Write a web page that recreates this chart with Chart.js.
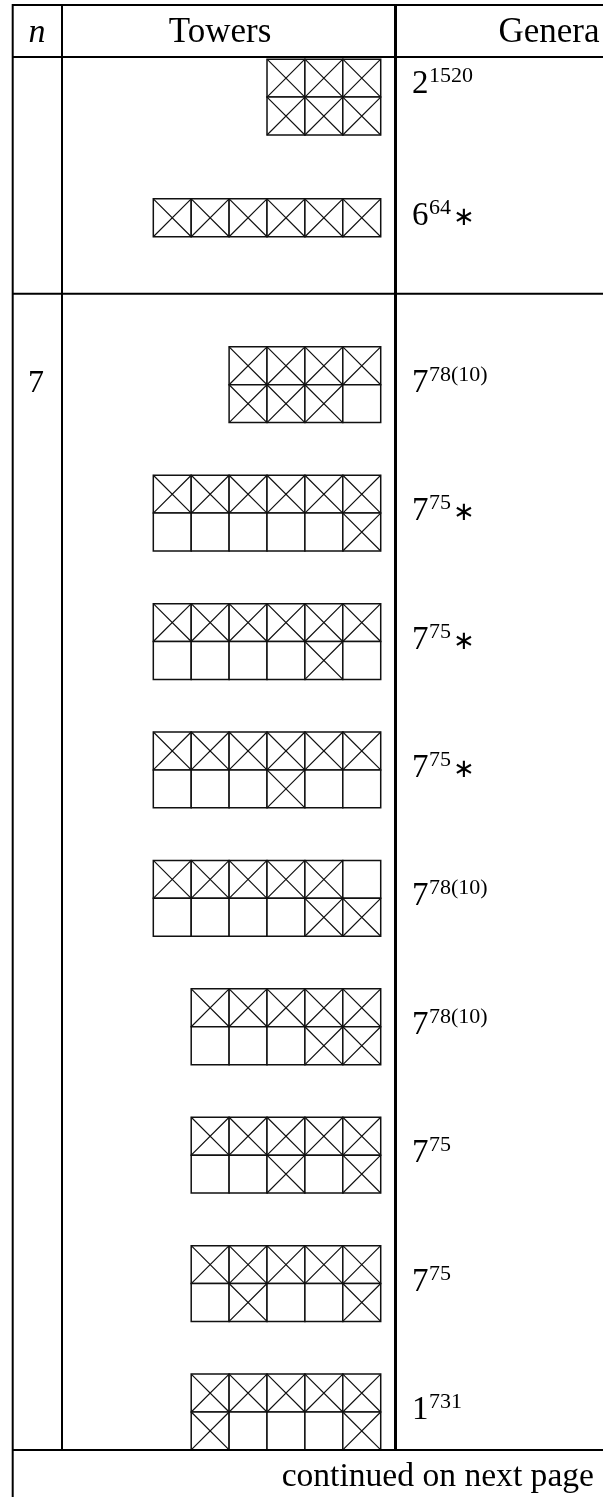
<!DOCTYPE html>
<html>
<head>
<meta charset="utf-8">
<script src="https://cdn.jsdelivr.net/npm/chart.js@4.4.1/dist/chart.umd.min.js"></script>
<style>
  html, body { margin: 0; padding: 0; background: #fff; }
  #wrap { width: 603px; height: 1497px; }
</style>
</head>
<body>
<div id="wrap"><canvas id="towerChart" width="603" height="1497"></canvas></div>
<script>
// one tower per table line, top row first; X = crossed box, . = empty box
var towers = [
    ['XXX', 'XXX'],
    ['XXXXXX'],
    ['XXXX', 'XXX.'],
    ['XXXXXX', '.....X'],
    ['XXXXXX', '....X.'],
    ['XXXXXX', '...X..'],
    ['XXXXX.', '....XX'],
    ['XXXXX', '...XX'],
    ['XXXXX', '..X.X'],
    ['XXXXX', '.X..X'],
    ['XXXXX', 'X...X']
];
// line of the table each tower sits on (the first two are the tail of the previous page)
var towerSlot = [-0.24, 0.7, 2, 3, 4, 5, 6, 7, 8, 9, 10];
var generaSlot = [-0.33, 0.7, 2, 3, 4, 5, 6, 7, 8, 9, 10];
var nLabels = ['', '', '7', '', '', '', '', '', '', '', ''];
var generaBase = ['2', '6', '7', '7', '7', '7', '7', '7', '7', '7', '1'];
var generaSup = ['1520', '64', '78(10)', '75', '75', '75', '78(10)', '78(10)', '75', '75', '731'];
var generaStar = [false, true, false, true, true, true, false, false, false, false, false];
var headers = ['n', 'Towers', 'Genera'];
var footer = 'continued on next page';

// layout (pixels / cell units)
var SLOT = 3.388;          // distance between tower lines, in boxes
var SERIF = '"Liberation Serif", "DejaVu Serif", serif';

var cellPts = [], crossPts = [];
towers.forEach(function (rows, t) {
    rows.forEach(function (row, r) {
        var w = row.length;
        for (var j = 0; j < w; j++) {
            var p = { x: j - w + 0.5, y: towerSlot[t] * SLOT + (r - (rows.length - 1) / 2) };
            cellPts.push(p);
            if (row[j] === 'X') crossPts.push(p);
        }
    });
});

function cellRadius(ctx) {
    var x = ctx.chart.scales.x;
    return Math.abs(x.getPixelForValue(1) - x.getPixelForValue(0)) / 2 * Math.SQRT2;
}

//table rules and texts
var tablePlugin = {
    id: 'tableFrame',
    afterDraw: function (chart) {
        var c = chart.ctx, ys = chart.scales.y;
        c.save();
        c.strokeStyle = '#000';
        function line(x0, y0, x1, y1, w) {
            c.lineWidth = w;
            c.beginPath();
            c.moveTo(x0, y0);
            c.lineTo(x1, y1);
            c.stroke();
        }
        line(12, 5, 603, 5, 2);
        line(12, 57, 603, 57, 2);
        line(12, 293.7, 603, 293.7, 2);
        line(12, 1450, 603, 1450, 2);
        line(12.7, 4, 12.7, 1497, 2);
        line(62, 4, 62, 1451, 2);
        line(395.5, 4, 395.5, 1451, 3);

        c.fillStyle = '#000';
        c.textBaseline = 'alphabetic';
        c.textAlign = 'center';
        c.font = 'italic 34px ' + SERIF;
        c.fillText(headers[0], 37, 42);
        c.font = '35px ' + SERIF;
        c.fillText(headers[1], 220, 42);
        c.fillText(headers[2], 549, 42);

        nLabels.forEach(function (lab, i) {
            if (!lab) return;
            c.font = '32px ' + SERIF;
            c.textAlign = 'center';
            c.fillText(lab, 36, ys.getPixelForValue(towerSlot[i] * SLOT) + 7);
        });

        c.textAlign = 'left';
        generaBase.forEach(function (b, i) {
            var py = ys.getPixelForValue(generaSlot[i] * SLOT) + 7;
            var px = 412;
            c.font = '33px ' + SERIF;
            c.fillText(b, px, py);
            px += c.measureText(b).width + 0.5;
            c.font = '22px ' + SERIF;
            c.fillText(generaSup[i], px, py - 11);
            px += c.measureText(generaSup[i]).width + 2;
            if (generaStar[i]) {
                c.font = '26px "DejaVu Sans"';
                c.fillText('\u2217', px, py);
            }
        });

        c.font = '33.6px ' + SERIF;
        c.textAlign = 'right';
        c.fillText(footer, 594, 1486);
        c.restore();
    }
};

var ctx = document.getElementById('towerChart').getContext('2d');
var towerChart = new Chart(ctx, {
    type: 'scatter',
    data: {
        datasets: [{
            label: 'boxes',
            data: cellPts,
            pointStyle: 'rect',
            pointRadius: cellRadius,
            backgroundColor: '#fff',
            borderColor: '#111',
            pointBorderWidth: 1.5,
            order: 2
        }, {
            label: 'crossed',
            data: crossPts,
            pointStyle: 'crossRot',
            pointRadius: cellRadius,
            borderColor: '#111',
            pointBorderWidth: 1.2,
            order: 1
        }]
    },
    options: {
        responsive: false,
        animation: false,
        events: [],
        layout: { padding: 0 },
        plugins: { legend: { display: false }, tooltip: { enabled: false } },
        scales: {
            x: { display: false, min: -10.045, max: 5.865 },
            y: { display: false, reverse: true, min: -3.375, max: 36.124 }
        }
    },
    plugins: [tablePlugin]
});
</script>
</body>
</html>
